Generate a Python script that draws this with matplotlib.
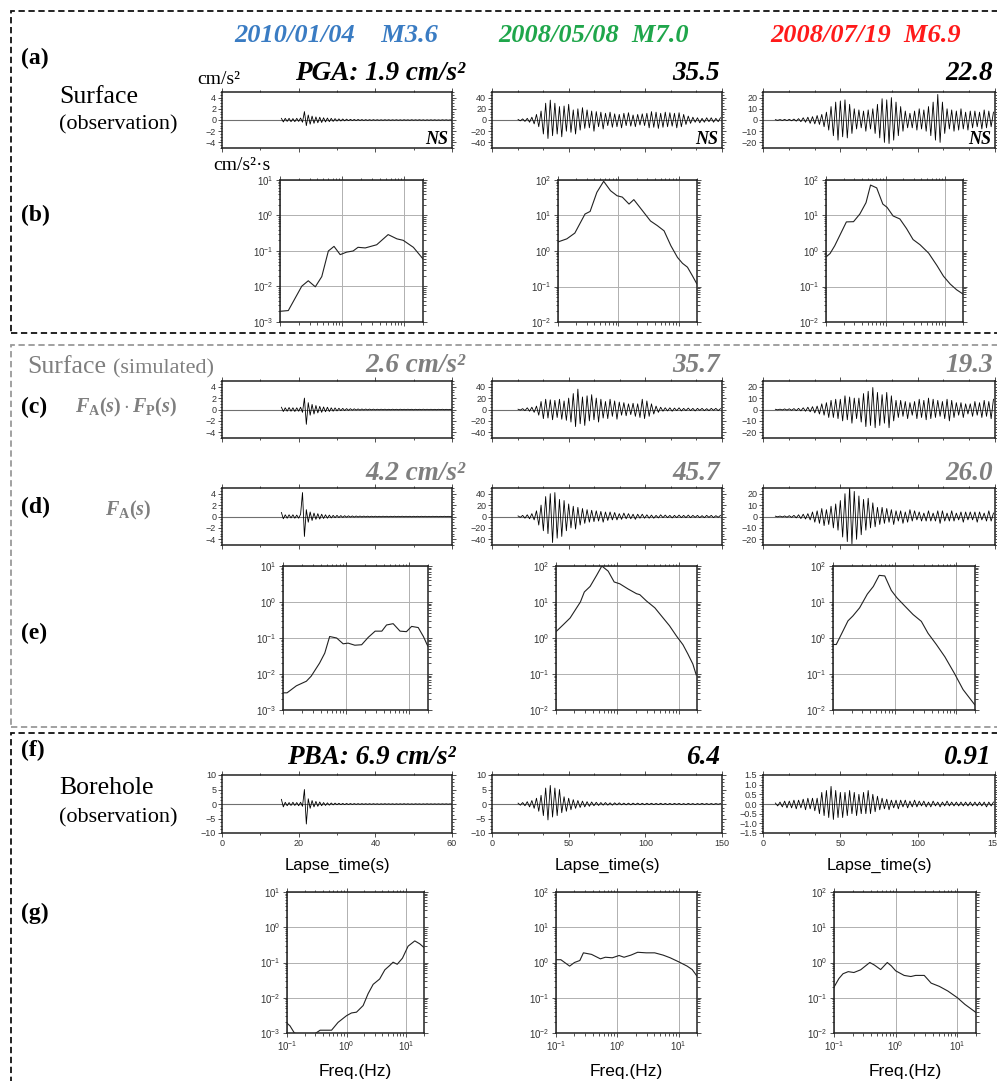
"""Surface / borehole accelerograms and Fourier spectra for three events."""
import numpy as np
import matplotlib

matplotlib.use("Agg")
import matplotlib.pyplot as plt  # noqa: E402
from matplotlib import patches  # noqa: E402
from matplotlib.ticker import (MultipleLocator, AutoMinorLocator,  # noqa: E402
                               LogLocator, NullFormatter)

W, H = 997, 1081

plt.rcParams["font.family"] = ["Liberation Sans", "DejaVu Sans"]
plt.rcParams["mathtext.fontset"] = "custom"
plt.rcParams["mathtext.rm"] = "Liberation Serif:bold"
plt.rcParams["mathtext.it"] = "Liberation Serif:italic:bold"
plt.rcParams["mathtext.bf"] = "Liberation Serif:bold"

# ---- data -----------------------------------------------------------------
EVENTS = ["2010/01/04    M3.6", "2008/05/08  M7.0", "2008/07/19  M6.9"]
PEAK_OBS = ["PGA: 1.9 cm/s\u00b2", "35.5", "22.8"]
PEAK_FAFP = ["2.6 cm/s\u00b2", "35.7", "19.3"]
PEAK_FA = ["4.2 cm/s\u00b2", "45.7", "26.0"]
PEAK_BH = ["PBA: 6.9 cm/s\u00b2", "6.4", "0.91"]

# trace start time (s), sample step (s), window length (s)
T_START = [15.5, 17.0, 8.0]
T_STEP = [0.5, 1.5, 1.5]
T_END = [60, 150, 150]

# (a) surface observation
ACC_OBS_1 = [0.3, -0.35, 0.3, -0.25, 0.3, -0.3, 0.25, -0.3, 0.3, -0.25, 0.35, -0.4,
             1.5, -1.0, 0.9, -0.75, 0.7, -0.6, 0.55, -0.5, 0.5, -0.45, 0.4, -0.35, 0.35, -0.3, 0.3, -0.25, 0.25, -0.2,
             0.2, -0.18, 0.18, -0.15, 0.15, -0.12, 0.12, -0.1, 0.1, -0.1, 0.1, -0.08, 0.08, -0.08, 0.07, -0.07, 0.06, -0.06, 0.06, -0.05,
             0.05, -0.05, 0.04, -0.05, 0.05, -0.04, 0.05, -0.05, 0.04, -0.04, 0.05, -0.05, 0.04, -0.05, 0.05, -0.04, 0.04, -0.05, 0.05, -0.04,
             0.04, -0.04, 0.05, -0.04, 0.04, -0.05, 0.04, -0.04, 0.04, -0.04, 0.04, -0.04, 0.03, -0.04, 0.04, -0.03, 0.04, -0.04, 0.03, -0.03]
ACC_OBS_2 = [1, -1.5, 2, -2.5, 3, -4, 5,
             -7, 10, -12, 16,
             -25, 30, -33, 35.5, -28, 30, -25, 24,
             -30, 25, -20, 28, -22, 18, -25, 20, -18, 22,
             -15, 18, -14, 16, -20, 15, -12, 14, -16, 12, -10, 14, -13, 11,
             -12, 10, -14, 12, -10, 13, -11, 9, -12, 10, -9, 11, -10,
             12, -14, 15, -13, 14, -15, 12, -13, 14, -12, 13, -11, 12, -14, 13, -12, 10,
             -8, 7, -6, 5, -4, 4, -5, 3, -4, 4, -3, 4, -4, 3, -3, 4]
ACC_OBS_3 = [0.3, -0.3, 0.4, -0.4, 0.5, -0.5, 0.6, -0.7, 0.8, -1,
             1.2, -1.5, 2, -2, 2.5, -3, 3, -3.5, 4, -4,
             5, -6, 7, -9, 12, -14,
             16, -18, 17, -15, 18, -16, 14, -12, 10, -8, 9, -7, 8, -10, 9, -8, 10, -12, 14,
             -16, 19, -20, 18, -21, 20, -18, 16, -14, 12, -10, 8, -7,
             6, -7, 8, -9, 10, -8, 9, -10, 12, -14,
             16, -18, 22.8, -20, 16, -12, 10,
             -8, 9, -10, 8, -9, 10, -8, 7, -9, 8, -7, 8, -6, 7, -8, 9, -7, 8, -6, 7]

# (c) simulated, F_A(s)*F_P(s)
ACC_FAFP_1 = [0.4, -0.35, 0.3, -0.3, 0.35, -0.3, 0.3, -0.35, 0.3, -0.3, 0.4, -0.5,
              2.0, -2.6, 1.2, -1.0, 0.9, -0.8, 0.7, -0.6, 0.55, -0.5, 0.45, -0.4, 0.4, -0.35, 0.3, -0.3, 0.28, -0.25,
              0.22, -0.2, 0.2, -0.18, 0.16, -0.15, 0.14, -0.12, 0.12, -0.1, 0.1, -0.1, 0.09, -0.08, 0.08, -0.07, 0.07, -0.06, 0.06, -0.06,
              0.05, -0.05, 0.05, -0.04, 0.05, -0.05, 0.04, -0.05, 0.05, -0.04, 0.04, -0.05, 0.05, -0.04, 0.04, -0.04, 0.05, -0.04, 0.04, -0.05,
              0.04, -0.04, 0.04, -0.04, 0.05, -0.04, 0.04, -0.04, 0.04, -0.04, 0.03, -0.04, 0.04, -0.03, 0.04, -0.04, 0.03, -0.04, 0.03, -0.03]
ACC_FAFP_2 = [0.5, -1, 1.5, -2, 3, -3, 4, -5, 6,
              -10, 14, -16, 18, -15, 17, -18, 16, -14, 18, -17, 15, -19, 20,
              -22, 28, -30, 35.7, -25, 22, -28, 24, -20, 26, -18, 20, -22, 18, -15,
              14, -16, 18, -12, 15, -17, 13, -10, 12, -11, 10, -9, 11, -12, 10,
              -14, 18, -16, 15, -12, 10, -8, 6, -5, 4,
              -3, 3, -2.5, 3, -3, 2.5, -2, 3, -2.5, 2, -2, 2.5, -2, 2, -2.5, 2, -1.5, 2, -2, 1.5, -2, 2, -1.5, 2, -2, 1.5]
ACC_FAFP_3 = [0.2, -0.3, 0.3, -0.4, 0.5, -0.5, 0.6, -0.7, 0.8, -1, 1, -1.2, 1.5, -1.5, 2, -2, 2.5, -3, 3,
              -4, 5, -5, 6, -7, 8, -7, 9, -8, 9,
              -10, 12, -9, 11, -12, 10, -8, 10, -11,
              14, -15, 16, -14, 19.3, -16, 15, -14, 13, -12, 15, -16, 12, -10, 8,
              -7, 8, -6, 7, -8, 6, -5, 7, -8, 9, -7, 8, -9, 10, -8, 9, -7, 8, -6, 7,
              -8, 9, -10, 8, -7, 6, -5, 6, -7, 5, -4, 5, -6, 7, -5, 6, -7, 8, -6, 7, -8, 9]

# (d) simulated, F_A(s)
ACC_FA_1 = [0.7, -0.4, 0.3, -0.3, 0.3, -0.25, 0.3, -0.3, 0.25, -0.3, 0.4,
            4.2, -3.5, 1.2, -1.0, 0.8, -0.7, 0.6, -0.5, 0.5, -0.45, 0.4, -0.35, 0.3, -0.3, 0.25, -0.25, 0.2, -0.2, 0.2,
            -0.18, 0.16, -0.15, 0.14, -0.12, 0.12, -0.1, 0.1, -0.1, 0.09, -0.08, 0.08, -0.07, 0.07, -0.06, 0.06, -0.06, 0.05, -0.05, 0.05,
            -0.05, 0.04, -0.05, 0.05, -0.04, 0.04, -0.05, 0.04, -0.04, 0.05, -0.04, 0.04, -0.04, 0.05, -0.04, 0.04, -0.04, 0.04, -0.05, 0.04,
            -0.04, 0.04, -0.04, 0.04, -0.03, 0.04, -0.04, 0.03, -0.04, 0.04, -0.03, 0.03, -0.04, 0.03, -0.03, 0.04, -0.03, 0.03, -0.03, 0.03]
ACC_FA_2 = [1, -1.5, 2, -3, 3, -4, 5, -6,
            10, -15, 20, -25,
            35, -30, 40, -45.7, 42, -38, 30, -35, 28,
            -25, 22, -20, 18, -22, 16, -15, 14, -12,
            12, -10, 11, -9, 10, -8, 9, -10, 8, -7, 8, -6, 7,
            -6, 5, -5, 6, -4, 5, -4, 4, -5, 4, -3, 4, -3,
            3, -3, 2.5, -3, 2, -2.5, 3, -2, 2.5, -2, 2, -2.5, 2, -2, 2.5, -2, 2, -2, 2.5, -2, 2, -1.5, 2, -2, 1.5, -2, 2,
            -1.5, 2, -2, 1.5, -1.5, 2]
ACC_FA_3 = [0.3, -0.3, 0.4, -0.4, 0.5, -0.6, 0.7, -0.8, 1, -1.2, 1.5, -1.8, 2, -2.2, 2.5, -3,
            4, -5, 5, -6, 7, -8, 6, -7, 9, -10, 11, -12,
            14, -18, 20, -22, 26, -24, 22, -20, 18, -16, 15, -12, 16, -10, 12, -9, 8,
            -7, 8, -6, 7, -5, 6, -7, 5, -4, 5, -6, 4, -5, 6, -4, 5, -3, 4, -4, 3,
            -4, 5, -4, 3, -4, 5, -6, 5, -4, 3, -4, 5, -4, 3, -3, 4, -5, 4, -3, 4,
            -3, 4, -5, 4, -3, 3, -4, 5, -4, 3]

# (f) borehole observation
ACC_BH_1 = [1.6, -1.0, 0.6, -0.6, 0.5, -0.5, 0.6, -0.5, 0.5, -0.6, 0.6, -0.8,
            5.0, -6.9, 1.8, -1.5, 1.2, -1.0, 0.9, -0.8, 0.7, -0.6, 0.5, -0.5, 0.4, -0.4, 0.35, -0.3, 0.3, -0.25,
            0.25, -0.22, 0.2, -0.2, 0.18, -0.16, 0.16, -0.15, 0.14, -0.13, 0.12, -0.12, 0.12, -0.1, 0.1, -0.1, 0.1, -0.1, 0.1, -0.08,
            0.08, -0.1, 0.08, -0.08, 0.1, -0.08, 0.08, -0.08, 0.08, -0.1, 0.08, -0.08, 0.08, -0.08, 0.1, -0.08, 0.08, -0.08, 0.06, -0.08,
            0.08, -0.06, 0.06, -0.08, 0.06, -0.06, 0.08, -0.06, 0.06, -0.06, 0.06, -0.06, 0.06, -0.06, 0.06, -0.05, 0.06, -0.06, 0.05, -0.05]
ACC_BH_2 = [0.3, -0.4, 0.5, -0.6, 0.8, -1.0, 1.2,
            -1.5, 2, -2.5, 3,
            -4, 5.5, -5.5, 6.4, -4.5, 5.5, -4, 5,
            -3, 2.5, -2.5, 2, -2, 1.5, -1.5,
            1.2, -1.2, 1, -1, 0.8, -0.8, 0.7, -0.6, 0.6,
            -0.5, 0.5, -0.4, 0.5, -0.4, 0.4, -0.4, 0.4, -0.3, 0.4, -0.3, 0.3, -0.3, 0.3, -0.3, 0.3, -0.25, 0.3, -0.25, 0.25,
            -0.25, 0.25, -0.2, 0.25, -0.2, 0.2, -0.2, 0.25, -0.2, 0.2, -0.2, 0.2, -0.2, 0.2, -0.15, 0.2, -0.2, 0.15, -0.2, 0.2,
            -0.15, 0.15, -0.2, 0.15, -0.15, 0.2, -0.15, 0.15, -0.15, 0.15, -0.15, 0.15, -0.1, 0.15]
ACC_BH_3 = [0.05, -0.1, 0.1, -0.15, 0.15, -0.2, 0.15, -0.2, 0.2, -0.25, 0.2, -0.2, 0.25, -0.3, 0.3, -0.25, 0.3, -0.35, 0.3,
            -0.5, 0.6, -0.6, 0.7, -0.7, 0.91, -0.8, 0.7, -0.7, 0.6, -0.7, 0.6, -0.6, 0.7, -0.5, 0.6, -0.6, 0.5, -0.5, 0.6,
            -0.5, 0.7, -0.5, 0.5, -0.4, 0.4, -0.3,
            0.3, -0.25, 0.25, -0.3, 0.2, -0.2, 0.2, -0.25, 0.2, -0.15, 0.2, -0.2, 0.15, -0.15, 0.2, -0.15, 0.15, -0.1, 0.15, -0.15,
            0.1, -0.15, 0.15, -0.1, 0.1, -0.15, 0.1, -0.1, 0.15, -0.1, 0.1, -0.1, 0.1, -0.1, 0.1, -0.1, 0.1, -0.1, 0.1, -0.1,
            0.1, -0.1, 0.1, -0.1, 0.1, -0.15, 0.1, -0.1, 0.1]

# (b) surface observed spectra  (Hz, cm/s^2*s)
SPEC_OBS_F1 = [0.1, 0.136, 0.224, 0.285, 0.37, 0.47, 0.6, 0.74, 0.93, 1.18, 1.5, 1.8, 2.35, 3.6, 5.5, 7.6, 9.6, 14, 20]
SPEC_OBS_A1 = [0.002, 0.0021, 0.0102, 0.0145, 0.0098, 0.019, 0.10, 0.135, 0.079, 0.093, 0.1, 0.127, 0.122, 0.15,
               0.29, 0.22, 0.2, 0.127, 0.06]
SPEC_OBS_F2 = [0.1, 0.14, 0.19, 0.28, 0.34, 0.44, 0.57, 0.74, 0.95, 1.16, 1.5, 1.8, 3.4, 4.4, 5.7, 7.4, 9.5, 11.5,
               13.9, 16.8, 19.8]
SPEC_OBS_A2 = [1.8, 2.2, 3.2, 11, 13, 45, 92, 50, 36, 33, 21, 28, 7, 5.2, 3.7, 1.4, 0.66, 0.45, 0.35, 0.2, 0.12]
SPEC_OBS_F3 = [0.1, 0.117, 0.14, 0.22, 0.29, 0.37, 0.47, 0.56, 0.71, 0.9, 1.06, 1.34, 1.74, 2.25, 2.9, 3.8, 5.3,
               7.3, 9.4, 12.2, 15.6, 19.8]
SPEC_OBS_A3 = [0.68, 0.85, 1.4, 6.6, 6.7, 11, 23, 72, 60, 21, 17, 9.7, 8, 4.3, 2.1, 1.5, 0.87, 0.39, 0.195, 0.117,
               0.081, 0.062]

# (e) simulated spectra
SPEC_SIM_F1 = [0.1, 0.116, 0.163, 0.235, 0.28, 0.38, 0.46, 0.55, 0.71, 0.9, 1.08, 1.38, 1.77, 2.25, 2.9, 3.7, 4.4,
               5.6, 7.2, 9.1, 11, 14, 16.9, 19.8]
SPEC_SIM_A1 = [0.003, 0.003, 0.0047, 0.0063, 0.0087, 0.02, 0.038, 0.11, 0.1, 0.069, 0.072, 0.063, 0.065, 0.104,
               0.155, 0.155, 0.23, 0.25, 0.155, 0.15, 0.21, 0.195, 0.11, 0.06]
SPEC_SIM_F2 = [0.1, 0.13, 0.17, 0.25, 0.29, 0.36, 0.46, 0.56, 0.71, 0.89, 1.1, 1.5, 2.06, 2.33, 2.99, 4.1, 5.6,
               7.1, 9.2, 11.8, 14.2, 17.1, 19.4]
SPEC_SIM_A2 = [1.5, 2.3, 3.6, 10, 19, 27, 55, 100, 72, 36, 32, 23, 17, 16, 10.7, 6.9, 3.6, 2.2, 1.15, 0.65, 0.36,
               0.19, 0.095]
SPEC_SIM_F3 = [0.1, 0.113, 0.175, 0.21, 0.27, 0.36, 0.45, 0.56, 0.69, 0.88, 1.09, 1.45, 1.98, 2.7, 3.47, 4.73,
               6.5, 9.4, 12.8, 19.8]
SPEC_SIM_A3 = [0.66, 0.66, 3.0, 4.1, 6.9, 16.6, 27, 55, 53, 21, 13, 7.8, 4.5, 2.9, 1.35, 0.66, 0.3, 0.1, 0.037, 0.014]

# (g) borehole spectra
SPEC_BH_F1 = [0.1, 0.112, 0.133, 0.16, 0.28, 0.36, 0.56, 0.72, 1.0, 1.21, 1.47, 1.9, 2.3, 2.8, 3.6, 4.4, 5.3, 6.05,
              7.1, 8.7, 10.8, 14, 16.9, 19.8]
SPEC_BH_A1 = [0.0019, 0.0016, 0.001, 0.0009, 0.0009, 0.0012, 0.0012, 0.002, 0.0031, 0.0037, 0.0039, 0.006, 0.013,
              0.024, 0.034, 0.062, 0.082, 0.102, 0.089, 0.133, 0.29, 0.41, 0.34, 0.27]
SPEC_BH_F2 = [0.1, 0.12, 0.167, 0.2, 0.245, 0.28, 0.38, 0.53, 0.64, 0.83, 1.07, 1.29, 1.67, 2.15, 2.97, 4.08, 5.6,
              7.3, 10, 13.8, 16.7, 20]
SPEC_BH_A2 = [1.2, 1.2, 0.79, 1.0, 1.14, 1.88, 1.7, 1.27, 1.41, 1.36, 1.58, 1.41, 1.62, 1.95, 1.88, 1.88, 1.62,
              1.36, 1.05, 0.79, 0.63, 0.41]
SPEC_BH_F3 = [0.1, 0.12, 0.14, 0.17, 0.21, 0.27, 0.38, 0.45, 0.57, 0.73, 0.85, 1.0, 1.37, 1.76, 2.1, 2.9, 3.75,
              5.1, 7, 10, 13.2, 20.5]
SPEC_BH_A3 = [0.2, 0.35, 0.48, 0.55, 0.52, 0.62, 1.0, 0.85, 0.63, 1.0, 0.8, 0.58, 0.43, 0.4, 0.43, 0.43, 0.26,
              0.21, 0.155, 0.1, 0.065, 0.037]

# ---- styling ----------------------------------------------------------------
SERIF = "Liberation Serif"
EVENT_C = ["#3a7cc3", "#1fa64b", "#ff1a1a"]
GRAY_T = "#7f7f7f"
YLIM_SURF = [5, 50, 25]
YSTEP_SURF = [2, 20, 10]
YLIM_BH = [10, 10, 1.5]
YSTEP_BH = [5, 5, 0.5]
XSTEP = [20, 50, 50]
XMINOR = [2, 3, 3]

WAVE_X = [(222, 452), (492, 722), (763, 995)]
SPEC_X = {"b": [(280, 423), (558, 697), (826, 963)],
          "e": [(283, 428), (556, 697), (833, 975)],
          "g": [(287, 424), (556, 697), (834, 976)]}

fig = plt.figure(figsize=(W / 100, H / 100), dpi=100)
fig.patch.set_facecolor("white")


def px_box(l, t, r, b):
    return [l / W, 1 - b / H, (r - l) / W, (b - t) / H]


def ftext(x, y, s, **kw):
    kw.setdefault("va", "center")
    fig.text(x / W, 1 - y / H, s, **kw)


def frame(ax):
    for sp in ax.spines.values():
        sp.set_linewidth(1.1)
        sp.set_color("#222222")


def wave(col, top, bot, acc, ylim, ystep, xlabels=False):
    l, r = WAVE_X[col]
    ax = fig.add_axes(px_box(l, top, r, bot))
    t = T_START[col] + T_STEP[col] * np.arange(len(acc))
    ax.axhline(0, color="#707070", lw=0.8, zorder=1)
    ax.plot(t, acc, color="black", lw=0.6, zorder=2)
    ax.set_xlim(0, T_END[col])
    ax.set_ylim(-ylim, ylim)
    ax.xaxis.set_major_locator(MultipleLocator(XSTEP[col]))
    ax.xaxis.set_minor_locator(AutoMinorLocator(XMINOR[col]))
    ax.yaxis.set_major_locator(MultipleLocator(ystep))
    ax.yaxis.set_minor_locator(AutoMinorLocator(4))
    ax.tick_params(which="both", direction="out", top=True, right=True,
                   labelsize=6.5, pad=1.2, width=0.6, colors="#333333")
    ax.tick_params(which="major", length=3)
    ax.tick_params(which="minor", length=1.6)
    ax.tick_params(labelbottom=xlabels)
    frame(ax)
    return ax


def spec(row, col, top, bot, f, a, ylo, xlabels=False):
    l, r = SPEC_X[row][col]
    ax = fig.add_axes(px_box(l, top, r, bot))
    ax.plot(f, a, color="#222222", lw=0.8, zorder=3)
    ax.set_xscale("log")
    ax.set_yscale("log")
    ax.set_xlim(0.1, 20)
    ax.set_ylim(ylo, ylo * 1e4)
    for axis in (ax.xaxis, ax.yaxis):
        axis.set_major_locator(LogLocator(base=10, numticks=10))
        axis.set_minor_locator(LogLocator(base=10, subs=np.arange(2, 10), numticks=20))
        axis.set_minor_formatter(NullFormatter())
    ax.grid(True, which="major", color="#b0b0b0", lw=0.7, zorder=0)
    ax.tick_params(which="both", direction="out", top=True, right=True,
                   labelsize=7, pad=1.5, width=0.6, colors="#333333")
    ax.tick_params(which="major", length=3)
    ax.tick_params(which="minor", length=1.8)
    ax.tick_params(labelbottom=xlabels)
    frame(ax)
    return ax


# ---- waveforms ------------------------------------------------------------
ACC_OBS = [ACC_OBS_1, ACC_OBS_2, ACC_OBS_3]
ACC_FAFP = [ACC_FAFP_1, ACC_FAFP_2, ACC_FAFP_3]
ACC_FA = [ACC_FA_1, ACC_FA_2, ACC_FA_3]
ACC_BH = [ACC_BH_1, ACC_BH_2, ACC_BH_3]

for c in range(3):
    ax = wave(c, 92, 148, ACC_OBS[c], YLIM_SURF[c], YSTEP_SURF[c])
    ax.text(0.985, 0.0, "NS", transform=ax.transAxes, ha="right", va="bottom",
            family=SERIF, fontsize=13, fontweight="bold", style="italic")
    wave(c, 381, 438, ACC_FAFP[c], YLIM_SURF[c], YSTEP_SURF[c])
    wave(c, 488, 545, ACC_FA[c], YLIM_SURF[c], YSTEP_SURF[c])
    ax = wave(c, 775, 833, ACC_BH[c], YLIM_BH[c], YSTEP_BH[c], xlabels=True)
    ax.set_xlabel("Lapse_time(s)", fontsize=12, labelpad=7)

# ---- spectra --------------------------------------------------------------
SPEC_OBS = [(SPEC_OBS_F1, SPEC_OBS_A1), (SPEC_OBS_F2, SPEC_OBS_A2), (SPEC_OBS_F3, SPEC_OBS_A3)]
SPEC_SIM = [(SPEC_SIM_F1, SPEC_SIM_A1), (SPEC_SIM_F2, SPEC_SIM_A2), (SPEC_SIM_F3, SPEC_SIM_A3)]
SPEC_BH = [(SPEC_BH_F1, SPEC_BH_A1), (SPEC_BH_F2, SPEC_BH_A2), (SPEC_BH_F3, SPEC_BH_A3)]
YLO = [1e-3, 1e-2, 1e-2]

for c in range(3):
    spec("b", c, 180, 322, *SPEC_OBS[c], YLO[c])
    spec("e", c, 566, 710, *SPEC_SIM[c], YLO[c])
    ax = spec("g", c, 892, 1033, *SPEC_BH[c], YLO[c], xlabels=True)
    ax.set_xlabel("Freq.(Hz)", fontsize=12.5, labelpad=8)

# ---- dashed group frames --------------------------------------------------
for (y0, y1, col) in [(11, 333, "#111111"), (345, 727, "#9a9a9a"), (733, 1095, "#111111")]:
    fig.add_artist(patches.Rectangle((11 / W, 1 - y1 / H), (1010 - 11) / W, (y1 - y0) / H,
                                     transform=fig.transFigure, fill=False, ec=col,
                                     lw=1.3, ls=(0, (3.5, 2)), clip_on=False))

# ---- text -----------------------------------------------------------------
for lab, y in [("(a)", 58), ("(b)", 215), ("(c)", 407), ("(d)", 507), ("(e)", 633),
               ("(f)", 750), ("(g)", 913)]:
    ftext(21, y, lab, family=SERIF, fontsize=17, fontweight="bold")

for c, x in enumerate([336, 594, 866]):
    ftext(x, 36, EVENTS[c], ha="center", family=SERIF, fontsize=19,
          fontweight="bold", style="italic", color=EVENT_C[c])

ftext(59, 97, "Surface", family=SERIF, fontsize=18.5)
ftext(59, 125, "(observation)", family=SERIF, fontsize=16)
ftext(197, 79, "cm/s\u00b2", family=SERIF, fontsize=14)
ftext(213, 165, "cm/s\u00b2\u00b7s", family=SERIF, fontsize=14)

ftext(27, 367, "Surface", family=SERIF, fontsize=18.5, color=GRAY_T)
ftext(113, 369, "(simulated)", family=SERIF, fontsize=16, color=GRAY_T)
ftext(75, 407, r"$F_{\mathrm{A}}(s)\cdot F_{\mathrm{P}}(s)$", fontsize=14.5, color=GRAY_T)
ftext(105, 510, r"$F_{\mathrm{A}}(s)$", fontsize=14.5, color=GRAY_T)

ftext(59, 788, "Borehole", family=SERIF, fontsize=18.5)
ftext(59, 818, "(observation)", family=SERIF, fontsize=16)

PEAK_RIGHT = [465, 720, 993]
for c in range(3):
    kw = dict(ha="right", family=SERIF, fontsize=19.5, fontweight="bold", style="italic")
    ftext(PEAK_RIGHT[c], 74, PEAK_OBS[c], **kw)
    ftext(PEAK_RIGHT[c], 366, PEAK_FAFP[c], color=GRAY_T, **kw)
    ftext(PEAK_RIGHT[c], 474, PEAK_FA[c], color=GRAY_T, **kw)
    ftext(PEAK_RIGHT[c] - (9 if c == 0 else 2 if c == 2 else 0), 757, PEAK_BH[c], **kw)

fig.savefig("out.png", dpi=100, facecolor="white")
